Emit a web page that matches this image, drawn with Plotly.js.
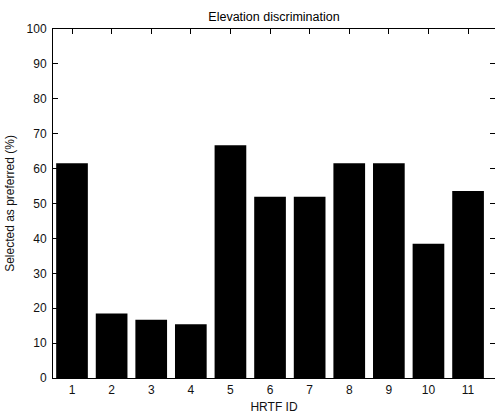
<!DOCTYPE html>
<html>
<head>
<meta charset="utf-8">
<script src="https://cdn.plot.ly/plotly-3.0.1.min.js"></script>
<style>
html,body{margin:0;padding:0;overflow:hidden;background:#fff;}
#chart{width:495px;height:417px;}
</style>
</head>
<body>
<div id="chart"></div>
<script>
const hrtfIds = [1, 2, 3, 4, 5, 6, 7, 8, 9, 10, 11];
const selectedPct = [61.5, 18.5, 16.7, 15.4, 66.7, 51.9, 51.9, 61.5, 61.5, 38.5, 53.6];
const yTicks = [0, 10, 20, 30, 40, 50, 60, 70, 80, 90, 100];

const fontFam = '"Liberation Sans", Arial, Helvetica, sans-serif';

const trace = {
  type: 'bar',
  x: hrtfIds,
  y: selectedPct,
  width: 0.8,
  marker: {color: '#000000', line: {color: '#000000', width: 0}},
  hoverinfo: 'skip'
};

const axisCommon = {
  showline: true,
  linecolor: '#000000',
  linewidth: 1,
  mirror: 'ticks',
  ticks: 'inside',
  ticklen: 5,
  tickcolor: '#000000',
  tickwidth: 1,
  showgrid: false,
  zeroline: false,
  tickfont: {family: fontFam, size: 12, color: '#111111'}
};

const layout = {
  width: 495,
  height: 417,
  margin: {l: 53, r: 0, t: 29, b: 39},
  paper_bgcolor: '#ffffff',
  plot_bgcolor: '#ffffff',
  showlegend: false,
  title: {
    text: 'Elevation discrimination',
    font: {family: fontFam, size: 12.5, color: '#000000'},
    x: 0.5, xref: 'paper', xanchor: 'center',
    y: 1, yref: 'paper', yanchor: 'bottom', pad: {b: 8}
  },
  xaxis: Object.assign({}, axisCommon, {
    range: [0.52, 11.68],
    tickmode: 'array',
    tickvals: hrtfIds,
    ticktext: hrtfIds.map(String),
    ticklabelstandoff: 1,
    title: {text: 'HRTF ID', font: {family: fontFam, size: 12, color: '#111111'}, standoff: 6}
  }),
  yaxis: Object.assign({}, axisCommon, {
    range: [0, 100],
    tickmode: 'array',
    tickvals: yTicks,
    ticktext: yTicks.map(String),
    ticklabelstandoff: 3,
    title: {text: 'Selected as preferred (%)', font: {family: fontFam, size: 12, color: '#111111'}, standoff: 9}
  })
};

Plotly.newPlot('chart', [trace], layout, {displayModeBar: false, staticPlot: true});
</script>
</body>
</html>
